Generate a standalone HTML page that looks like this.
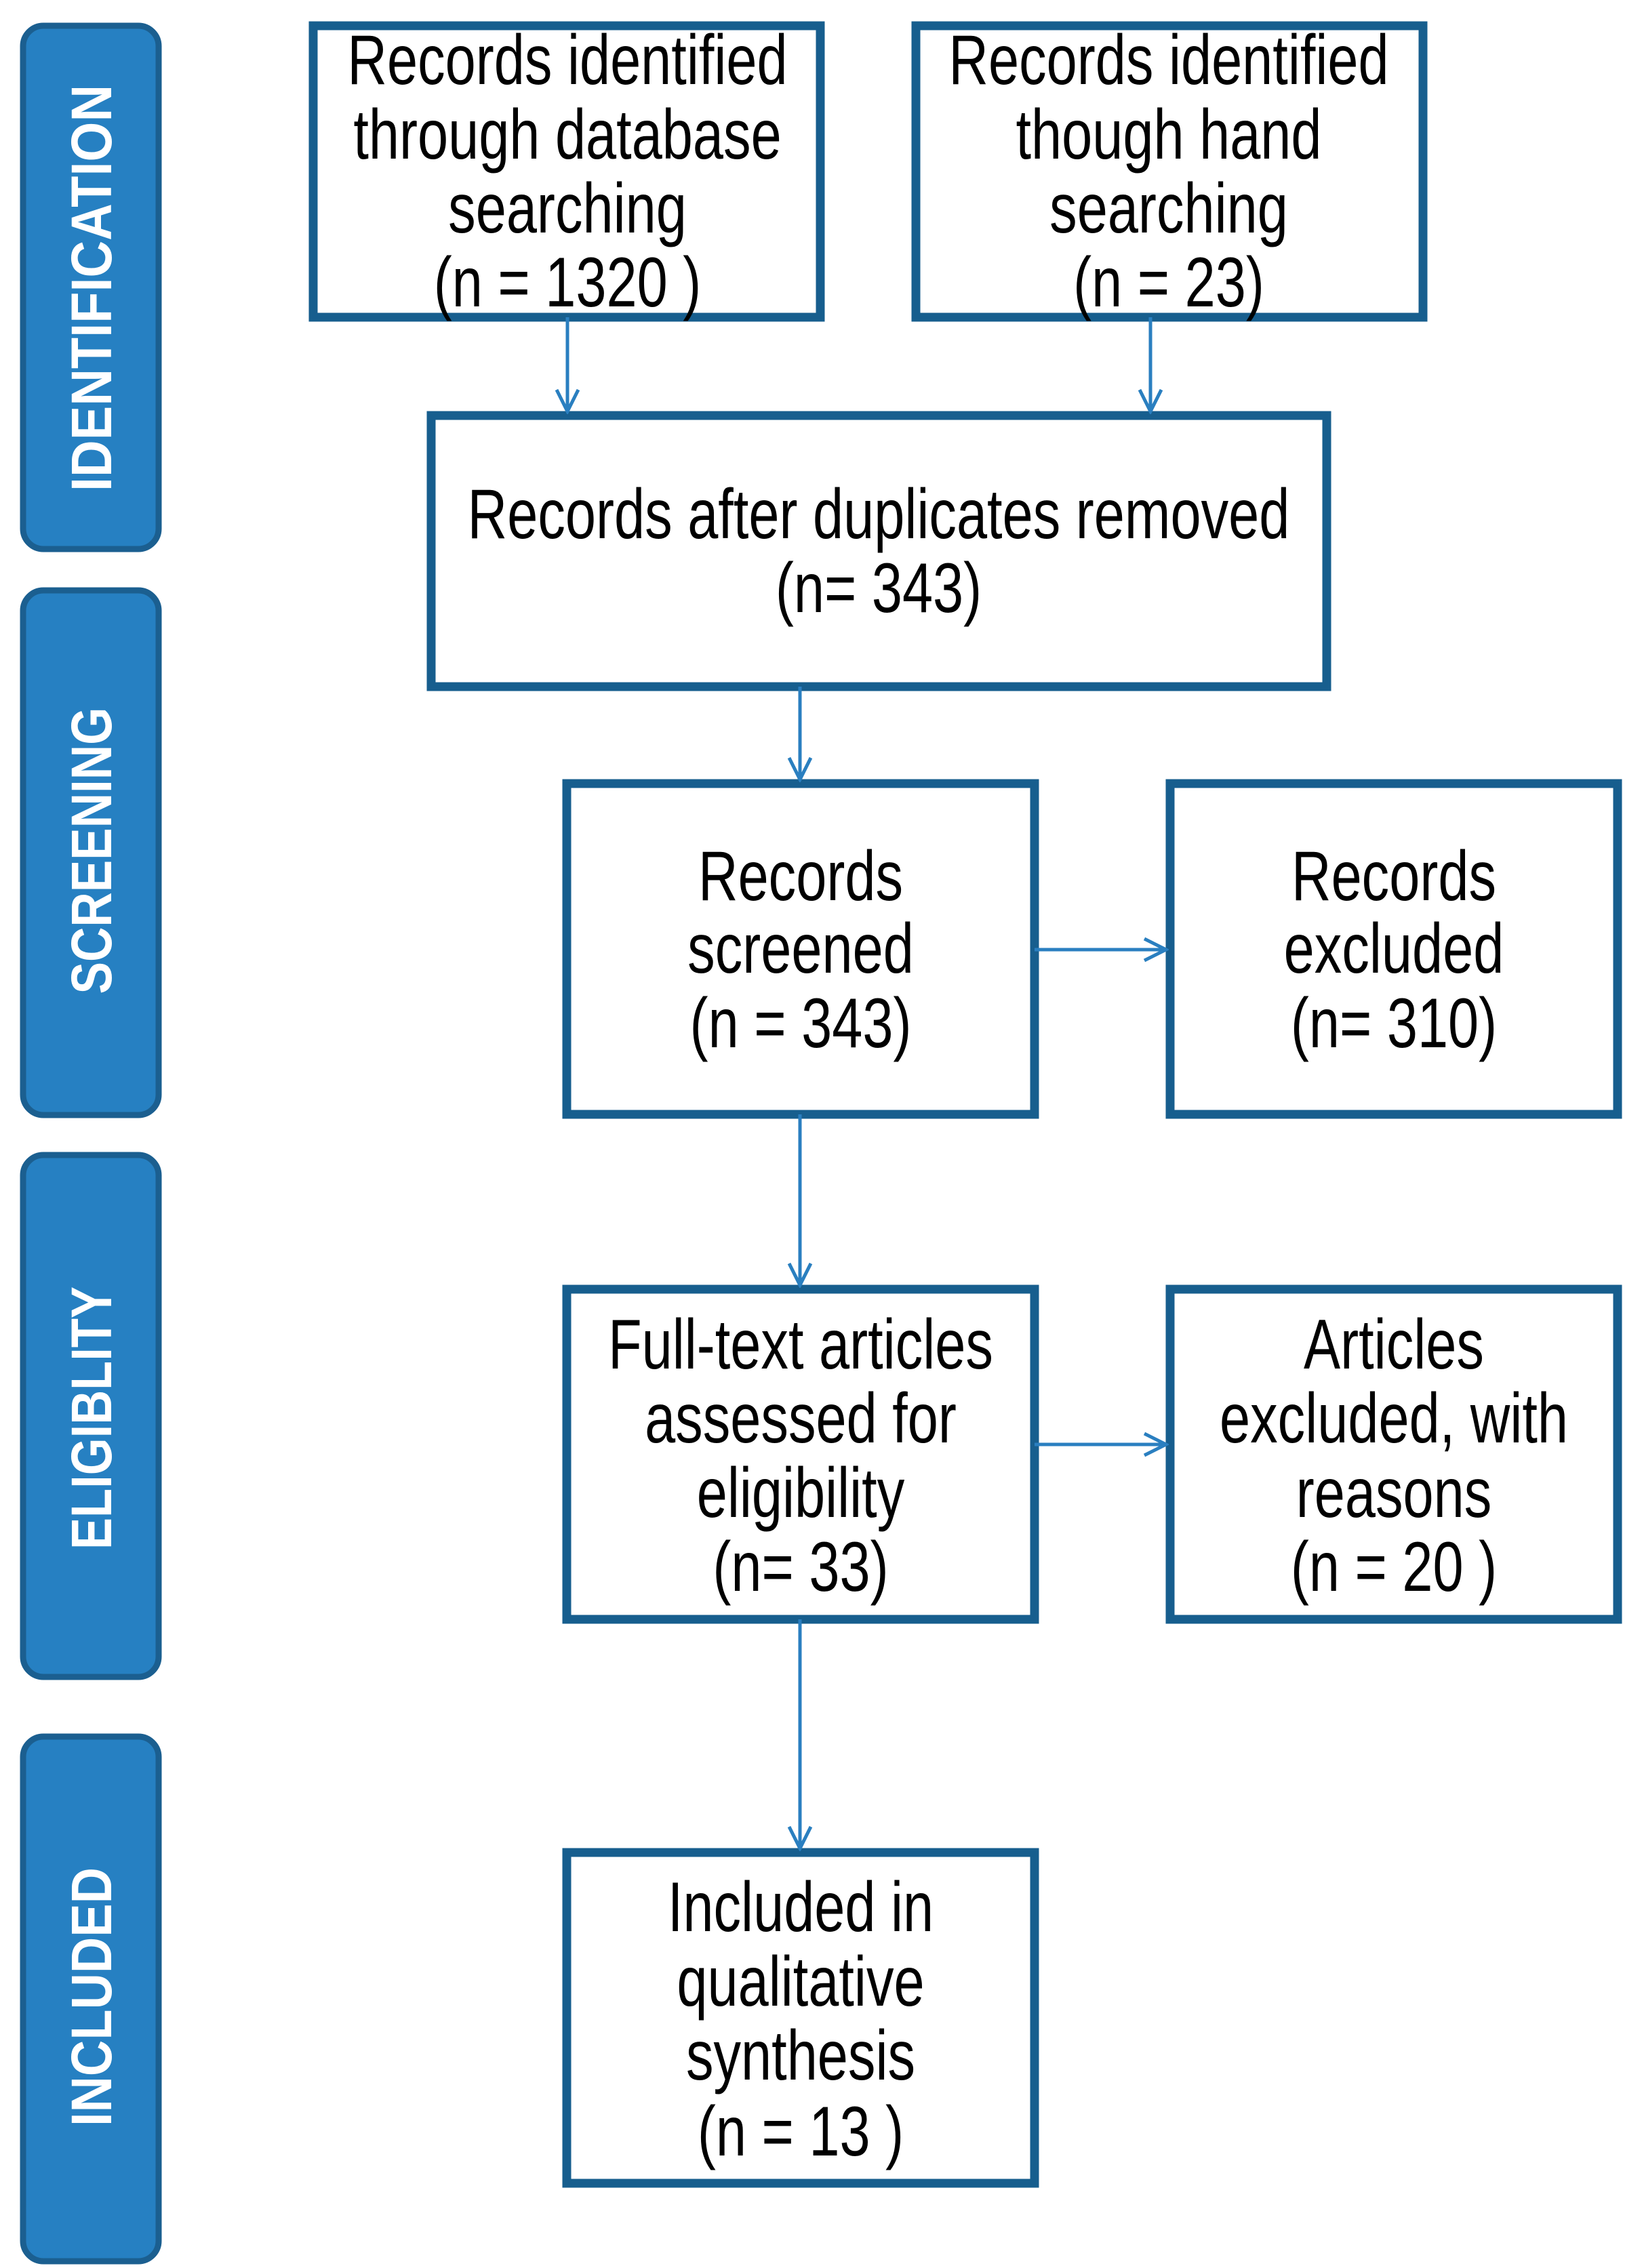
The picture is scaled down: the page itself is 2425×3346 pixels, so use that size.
<!DOCTYPE html>
<html><head><meta charset="utf-8"><style>
html,body{margin:0;padding:0;background:#fff;}
svg{display:block;}
.t{font-family:"Liberation Sans",sans-serif;font-size:104px;fill:#000;text-anchor:middle;}
.tab{font-family:"Liberation Sans",sans-serif;font-weight:bold;font-size:84px;fill:#fff;text-anchor:middle;dominant-baseline:central;}
</style></head><body>
<svg width="2425" height="3346" viewBox="0 0 2425 3346" xmlns="http://www.w3.org/2000/svg">
<defs>
<marker id="ah" markerWidth="40" markerHeight="40" refX="36" refY="20" orient="auto" markerUnits="userSpaceOnUse">
<path d="M4,4 L36,20 L4,36" fill="none" stroke="#2a7fc0" stroke-width="5"/>
</marker>
</defs>
<g fill="#2680c2" stroke="#1b5f90" stroke-width="9">
<rect x="34" y="38" width="200" height="772" rx="30"/>
<rect x="34" y="871" width="200" height="774" rx="30"/>
<rect x="34" y="1704" width="200" height="770" rx="30"/>
<rect x="34" y="2562" width="200" height="774" rx="30"/>
</g>
<text class="tab" transform="translate(135,425) rotate(-90)" textLength="600" lengthAdjust="spacingAndGlyphs">IDENTIFICATION</text>
<text class="tab" transform="translate(135,1255) rotate(-90)" textLength="423" lengthAdjust="spacingAndGlyphs">SCREENING</text>
<text class="tab" transform="translate(135,2092) rotate(-90)" textLength="388" lengthAdjust="spacingAndGlyphs">ELIGIBLITY</text>
<text class="tab" transform="translate(135,2946) rotate(-90)" textLength="382" lengthAdjust="spacingAndGlyphs">INCLUDED</text>

<g fill="#fff" stroke="#175e8e" stroke-width="13">
<rect x="462" y="38" width="748" height="430"/>
<rect x="1351" y="38" width="748" height="430"/>
<rect x="636" y="613" width="1321" height="400"/>
<rect x="836" y="1156" width="690" height="488"/>
<rect x="1726" y="1156" width="660" height="488"/>
<rect x="836" y="1902" width="690" height="487"/>
<rect x="1726" y="1902" width="660" height="487"/>
<rect x="836" y="2733" width="690" height="488"/>
</g>

<g stroke="#2a7fc0" stroke-width="5" fill="none" marker-end="url(#ah)">
<line x1="837" y1="468" x2="837" y2="607"/>
<line x1="1697" y1="468" x2="1697" y2="607"/>
<line x1="1180" y1="1013" x2="1180" y2="1150"/>
<line x1="1526" y1="1401" x2="1720" y2="1401"/>
<line x1="1180" y1="1644" x2="1180" y2="1896"/>
<line x1="1526" y1="2131" x2="1720" y2="2131"/>
<line x1="1180" y1="2389" x2="1180" y2="2727"/>
</g>

<g>
<text class="t" transform="translate(837,124) scale(0.78,1)">Records identified</text>
<text class="t" transform="translate(837,234) scale(0.78,1)">through database</text>
<text class="t" transform="translate(837,343) scale(0.78,1)">searching</text>
<text class="t" transform="translate(837,452) scale(0.78,1)">(n =  1320 )</text>
</g>
<g>
<text class="t" transform="translate(1724,124) scale(0.78,1)">Records identified</text>
<text class="t" transform="translate(1724,234) scale(0.78,1)">though hand</text>
<text class="t" transform="translate(1724,343) scale(0.78,1)">searching</text>
<text class="t" transform="translate(1724,452) scale(0.78,1)">(n = 23)</text>
</g>
<g>
<text class="t" transform="translate(1296,794) scale(0.78,1)">Records after duplicates removed</text>
<text class="t" transform="translate(1296,903) scale(0.78,1)">(n= 343)</text>
</g>
<g>
<text class="t" transform="translate(1181,1328) scale(0.78,1)">Records</text>
<text class="t" transform="translate(1181,1435) scale(0.78,1)">screened</text>
<text class="t" transform="translate(1181,1545) scale(0.78,1)">(n = 343)</text>
</g>
<g>
<text class="t" transform="translate(2056,1328) scale(0.78,1)">Records</text>
<text class="t" transform="translate(2056,1435) scale(0.78,1)">excluded</text>
<text class="t" transform="translate(2056,1545) scale(0.78,1)">(n= 310)</text>
</g>
<g>
<text class="t" transform="translate(1181,2019) scale(0.78,1)">Full-text articles</text>
<text class="t" transform="translate(1181,2128) scale(0.78,1)">assessed for</text>
<text class="t" transform="translate(1181,2238) scale(0.78,1)">eligibility</text>
<text class="t" transform="translate(1181,2347) scale(0.78,1)">(n= 33)</text>
</g>
<g>
<text class="t" transform="translate(2056,2019) scale(0.78,1)">Articles</text>
<text class="t" transform="translate(2056,2128) scale(0.78,1)">excluded, with</text>
<text class="t" transform="translate(2056,2238) scale(0.78,1)">reasons</text>
<text class="t" transform="translate(2056,2347) scale(0.78,1)">(n = 20 )</text>
</g>
<g>
<text class="t" transform="translate(1181,2849) scale(0.78,1)">Included  in</text>
<text class="t" transform="translate(1181,2959) scale(0.78,1)">qualitative</text>
<text class="t" transform="translate(1181,3068) scale(0.78,1)">synthesis</text>
<text class="t" transform="translate(1181,3180) scale(0.78,1)">(n = 13 )</text>
</g>
</svg>
</body></html>
